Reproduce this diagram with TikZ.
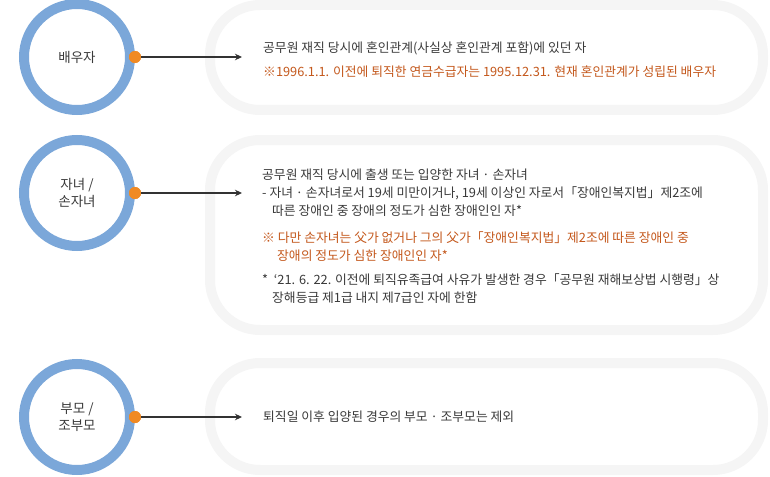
\documentclass[tikz,border=0pt]{standalone}
\usepackage{fontspec}
\setmainfont{Noto Sans CJK KR}
\usetikzlibrary{arrows.meta}
\definecolor{ringblue}{HTML}{7BA7D9}
\definecolor{dotorange}{HTML}{F08A24}
\definecolor{boxgray}{HTML}{F5F5F5}
\definecolor{txtdark}{HTML}{3A3A3A}
\definecolor{txtorange}{HTML}{C4581C}
\definecolor{arrowdark}{HTML}{333333}
\tikzset{
  ring/.style={circle, draw=ringblue, line width=10pt, fill=white, minimum size=106pt, inner sep=0pt,
    align=center, font=\fontsize{13.5}{17}\selectfont, text=txtdark},
  pill/.style={draw=boxgray, line width=10pt, rounded corners=50pt, fill=white},
  dotnode/.style={circle, fill=dotorange, minimum size=12pt, inner sep=0pt},
  conn/.style={-{Stealth[length=7pt,width=6.5pt]}, line width=1.1pt, draw=arrowdark},
  txt/.style={anchor=base west, inner sep=0pt, font=\fontsize{12.8}{15}\selectfont, text=txtdark},
  otxt/.style={txt, text=txtorange}
}
\begin{document}
\begin{tikzpicture}[x=1pt,y=-1pt]
\useasboundingbox (0,0) rectangle (770,476);
% boxes
\draw[pill] (210,5) rectangle (763,110);
\draw[pill] (210,140) rectangle (763,330);
\draw[pill] (210,363) rectangle (763,470);
% circles
\node[ring] (c1) at (77,57) {배우자};
\node[ring] (c2) at (77,193) {자녀 /\\손자녀};
\node[ring] (c3) at (77,417) {부모 /\\조부모};
% dots and connectors
\node[dotnode] (d1) at (135,57) {};
\node[dotnode] (d2) at (135,193) {};
\node[dotnode] (d3) at (135,417) {};
\coordinate (t1) at (242,57);
\coordinate (t2) at (242,193);
\coordinate (t3) at (242,417);
\draw[conn] (d1.center) -- (t1);
\draw[conn] (d2.center) -- (t2);
\draw[conn] (d3.center) -- (t3);
\node[dotnode] at (d1.center) {};
\node[dotnode] at (d2.center) {};
\node[dotnode] at (d3.center) {};
% box 1 text
\node[txt] (a1) at (263,52.5) {공무원 재직 당시에 혼인관계(사실상 혼인관계 포함)에 있던 자};
\node[otxt] (a2) at (263,76.5) {※1996.1.1. 이전에 퇴직한 연금수급자는 1995.12.31. 현재 혼인관계가 성립된 배우자};
% box 2 text
\node[txt] (b1) at (262,179.5) {공무원 재직 당시에 출생 또는 입양한 자녀 · 손자녀};
\node[txt] (b2) at (262,197.5) {- 자녀 · 손자녀로서 19세 미만이거나, 19세 이상인 자로서「장애인복지법」제2조에};
\node[txt] (b3) at (272,215.5) {따른 장애인 중 장애의 정도가 심한 장애인인 자*};
\node[otxt] (b4) at (262,242.5) {※ 다만 손자녀는 父가 없거나 그의 父가「장애인복지법」제2조에 따른 장애인 중};
\node[otxt] (b5) at (277,260.5) {장애의 정도가 심한 장애인인 자*};
\node[txt] (b6) at (262,284.5) {*\ \ ‘21. 6. 22. 이전에 퇴직유족급여 사유가 발생한 경우「공무원 재해보상법 시행령」상};
\node[txt] (b7) at (272,302.5) {장해등급 제1급 내지 제7급인 자에 한함};
% box 3 text
\node[txt] (e1) at (263,421.5) {퇴직일 이후 입양된 경우의 부모 · 조부모는 제외};
\end{tikzpicture}
\end{document}
